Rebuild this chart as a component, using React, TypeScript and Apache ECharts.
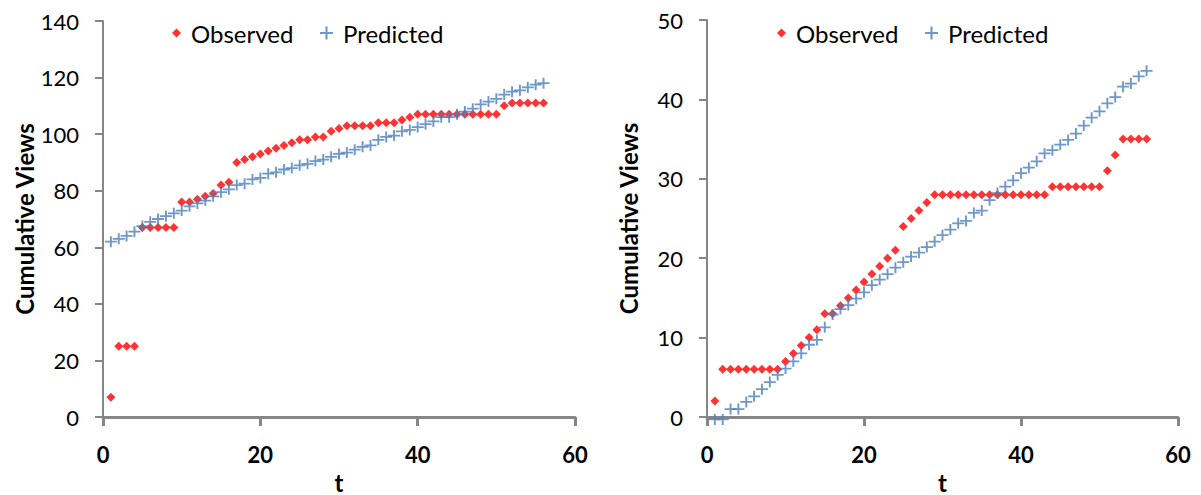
import React, { useEffect, useRef } from "react";
import * as echarts from "echarts";

const tValues = [1, 2, 3, 4, 5, 6, 7, 8, 9, 10, 11, 12, 13, 14, 15, 16, 17, 18, 19, 20, 21, 22, 23, 24, 25, 26, 27, 28, 29, 30, 31, 32, 33, 34, 35, 36, 37, 38, 39, 40, 41, 42, 43, 44, 45, 46, 47, 48, 49, 50, 51, 52, 53, 54, 55, 56];

const leftObserved = [7, 25, 25, 25, 67, 67, 67, 67, 67, 76, 76, 77, 78, 79, 82, 83, 90, 91, 92, 93, 94, 95, 96, 97, 98, 98, 99, 99, 101, 102, 103, 103, 103, 103, 104, 104, 104, 105, 106, 107, 107, 107, 107, 107, 107, 107, 107, 107, 107, 107, 110, 111, 111, 111, 111, 111];

const leftPredicted = [62, 63, 64, 65.5, 67.5, 69, 70, 71, 72, 73, 74.5, 75.5, 76.5, 78, 79.5, 80.5, 82, 82.5, 84, 84.5, 86, 86.5, 87.5, 88, 89, 89.5, 90.5, 91, 92, 93, 93.5, 94.5, 95.5, 96, 98, 99, 99.5, 101, 101.5, 102.5, 103.5, 104.5, 106, 106, 107, 108, 109, 110.5, 111.5, 112.5, 114, 115, 115.5, 116.5, 117.5, 118];

const rightObserved = [2, 6, 6, 6, 6, 6, 6, 6, 6, 7, 8, 9, 10, 11, 13, 13, 14, 15, 16, 17, 18, 19, 20, 21, 24, 25, 26, 27, 28, 28, 28, 28, 28, 28, 28, 28, 28, 28, 28, 28, 28, 28, 28, 29, 29, 29, 29, 29, 29, 29, 31, 33, 35, 35, 35, 35];

const rightPredicted = [-0.3, -0.3, 1, 1, 1.9, 2.6, 3.5, 4.4, 5.3, 6.1, 7.0, 8.0, 9.1, 9.7, 11.3, 12.9, 13.6, 14.1, 14.9, 15.7, 16.6, 17.3, 18.0, 18.8, 19.5, 20.2, 20.7, 21.4, 22.1, 22.9, 23.6, 24.4, 24.7, 25.7, 26.0, 27.3, 28.2, 29.0, 29.8, 30.7, 31.4, 32.2, 33.2, 33.6, 34.3, 34.9, 35.7, 36.7, 37.7, 38.5, 39.5, 40.3, 41.6, 42.0, 42.9, 43.6];

const seriesNames = ["Observed", "Predicted"];
const xTitle = "t";
const yTitle = "Cumulative Views";

const PLUS = "path://M8.4,0H11.6V8.4H20V11.6H11.6V20H8.4V11.6H0V8.4H8.4Z";
const RED = "#FF0000";
const BLUE = "#4A7EBB";
const AXIS_GRAY = "#868686";
const FONT = "Lato";

function pairs(values: number[]) {
  return tValues.map((t, i) => [t, values[i]]);
}

function xAxisCfg(gridIndex: number) {
  return {
    type: "value",
    gridIndex,
    min: 0,
    max: 60,
    interval: 20,
    name: xTitle,
    nameLocation: "middle",
    nameGap: 55,
    nameTextStyle: { fontFamily: FONT, fontSize: 24, fontWeight: "bold", color: "#000", lineHeight: 20 },
    axisLine: { show: true, onZero: false, lineStyle: { color: AXIS_GRAY, width: 3 } },
    axisTick: { show: true, inside: false, length: 9, lineStyle: { color: AXIS_GRAY, width: 3 } },
    axisLabel: { margin: 26, fontFamily: FONT, fontSize: 22, fontWeight: "bold", color: "#000" },
    splitLine: { show: false },
  };
}

function yAxisCfg(gridIndex: number, max: number, interval: number) {
  return {
    type: "value",
    gridIndex,
    min: 0,
    max,
    interval,
    name: yTitle,
    nameLocation: "middle",
    nameGap: 67,
    nameTextStyle: { fontFamily: FONT, fontSize: 24, fontWeight: "bold", color: "#000" },
    axisLine: { show: true, lineStyle: { color: AXIS_GRAY, width: 2 } },
    axisTick: { show: true, inside: false, length: 8, lineStyle: { color: AXIS_GRAY, width: 2 } },
    axisLabel: { margin: 24, fontFamily: FONT, fontSize: 22, color: "#000" },
    splitLine: { show: false },
  };
}

function legendCfg(name: string, left: number, size: number) {
  return {
    data: [name],
    left,
    top: 20,
    padding: 0,
    itemWidth: size,
    itemHeight: size,
    selectedMode: false,
    textStyle: { fontFamily: FONT, fontSize: 24, color: "#000", lineHeight: 26, padding: [0, 0, 0, 5] },
  };
}

export default function App() {
  const ref = useRef<HTMLDivElement>(null);

  useEffect(() => {
    if (!ref.current) return;
    const chart = echarts.init(ref.current, undefined, { renderer: "svg" });
    const obsStyle = { symbol: "diamond", symbolSize: 9, itemStyle: { color: RED } };
    const predStyle = { symbol: PLUS, symbolSize: [12, 11], itemStyle: { color: BLUE } };
    chart.setOption({
      animation: false,
      backgroundColor: "#FFFFFF",
      grid: [
        { left: 103, top: 21, width: 472, height: 396, outerBoundsMode: "none", containLabel: false },
        { left: 707, top: 20, width: 471, height: 397, outerBoundsMode: "none", containLabel: false },
      ],
      xAxis: [xAxisCfg(0), xAxisCfg(1)],
      yAxis: [yAxisCfg(0, 140, 20), yAxisCfg(1, 50, 10)],
      legend: [
        legendCfg(seriesNames[0], 172, 9),
        legendCfg(seriesNames[1], 320, 13),
        legendCfg(seriesNames[0], 777, 9),
        legendCfg(seriesNames[1], 925, 13),
      ],
      series: [
        { type: "scatter", name: seriesNames[0], xAxisIndex: 0, yAxisIndex: 0, data: pairs(leftObserved), ...obsStyle },
        { type: "scatter", name: seriesNames[1], xAxisIndex: 0, yAxisIndex: 0, data: pairs(leftPredicted), ...predStyle },
        { type: "scatter", name: seriesNames[0], xAxisIndex: 1, yAxisIndex: 1, data: pairs(rightObserved), ...obsStyle },
        { type: "scatter", name: seriesNames[1], xAxisIndex: 1, yAxisIndex: 1, data: pairs(rightPredicted), clip: false, ...predStyle },
      ],
    });
    return () => chart.dispose();
  }, []);

  return (
    <div
      ref={ref}
      style={{ position: "fixed", left: 0, top: 0, width: 1201, height: 495, background: "#fff" }}
    />
  );
}
